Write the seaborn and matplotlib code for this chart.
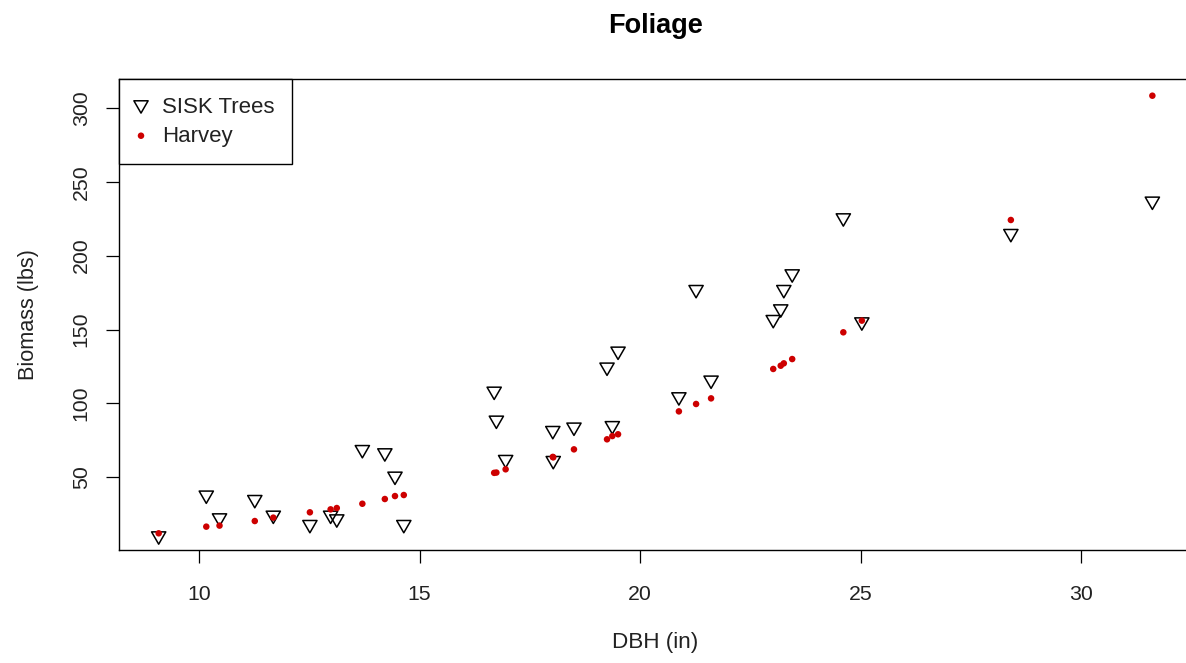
import numpy as np
import pandas as pd
import matplotlib
matplotlib.use("Agg")
import matplotlib.pyplot as plt
from matplotlib.path import Path
import seaborn as sns

# Tree diameter at breast height (in) and foliage biomass (lbs)
dbh = [9.08, 10.16, 10.46, 11.26, 11.68, 12.51, 12.98, 13.12, 13.70, 14.21,
       14.44, 14.64, 16.69, 16.74, 16.95, 18.02, 18.03, 18.50, 19.25, 19.37,
       19.50, 20.88, 21.27, 21.61, 23.02, 23.19, 23.26, 23.45, 24.61, 25.03,
       28.41, 31.62]
sisk_biomass = [8.9, 36.5, 21.1, 33.5, 22.9, 16.6, 22.9, 20.4, 67.3, 65.1,
                49.3, 16.6, 106.8, 87.2, 60.6, 80.2, 59.9, 82.5, 123.1, 83.5,
                133.9, 103.0, 175.6, 114.3, 155.3, 162.5, 175.6, 186.2, 224.1, 153.7,
                213.5, 235.4]
harvey_biomass = [12.1, 16.6, 17.3, 20.4, 22.7, 26.3, 28.3, 29.2, 32.1, 35.3,
                  37.3, 38.0, 53.0, 53.2, 55.4, 63.8, 63.5, 68.9, 75.7, 77.9,
                  79.1, 94.6, 99.6, 103.4, 123.3, 125.5, 127.1, 130.0, 148.1, 156.0,
                  224.1, 308.2]

x_ticks = [10, 15, 20, 25, 30]
y_ticks = [50, 100, 150, 200, 250, 300]

df = pd.DataFrame({"DBH": dbh, "SISK": sisk_biomass, "Harvey": harvey_biomass})

sns.set_theme(style="white")
plt.rcParams["font.family"] = ["Liberation Sans", "DejaVu Sans"]

W, H = 1186, 663
fig = plt.figure(figsize=(W / 100, H / 100), dpi=100)
left, right, top, bottom = 119, 1191.6, 79, 550
ax = fig.add_axes([left / W, 1 - bottom / H, (right - left) / W, (bottom - top) / H])

# equilateral downward triangle, like R's pch = 6
tri = Path([(-1, 0.866), (1, 0.866), (0, -0.866), (0, 0)],
           [Path.MOVETO, Path.LINETO, Path.LINETO, Path.CLOSEPOLY])

sns.scatterplot(data=df, x="DBH", y="SISK", ax=ax, marker=tri, s=105,
                facecolor="none", edgecolor="black", linewidth=1.1,
                label="SISK Trees", zorder=3)
sns.scatterplot(data=df, x="DBH", y="Harvey", ax=ax, marker="o", s=22,
                color="#CD0000", edgecolor="none", linewidth=0,
                label="Harvey", zorder=4)

ax.set_xlim(8.18, 32.51)
ax.set_ylim(0.8, 319.5)
ax.set_xticks(x_ticks)
ax.set_yticks(y_ticks)
ax.set_xticklabels([str(v) for v in x_ticks])
ax.set_yticklabels([str(v) for v in y_ticks], rotation=90, va="center")

for s in ax.spines.values():
    s.set_visible(True)
    s.set_color("black")
    s.set_linewidth(1.0)

ax.tick_params(axis="both", which="major", bottom=True, left=True,
               direction="out", length=9.4, width=0.9,
               color="black", labelsize=15.3, labelcolor="#222222")
ax.tick_params(axis="x", pad=15.5)
ax.tick_params(axis="y", pad=11)

ax.set_xlabel("DBH (in)", fontsize=16.2, color="#222222", labelpad=20.5)
ax.set_ylabel("Biomass (lbs)", fontsize=15.6, color="#222222", labelpad=23.5)
ax.set_title("Foliage", fontsize=19.5, fontweight="bold", color="black", pad=33)

leg = ax.legend(loc="upper left", bbox_to_anchor=(0, 1), borderaxespad=0,
                fontsize=16, frameon=True, fancybox=False, framealpha=1,
                edgecolor="black", borderpad=0.8, handlelength=0.38,
                handletextpad=0.74, labelspacing=0.35)
leg.get_frame().set_linewidth(1.0)
for t in leg.get_texts():
    t.set_color("#222222")

fig.savefig("out.png", dpi=100)
